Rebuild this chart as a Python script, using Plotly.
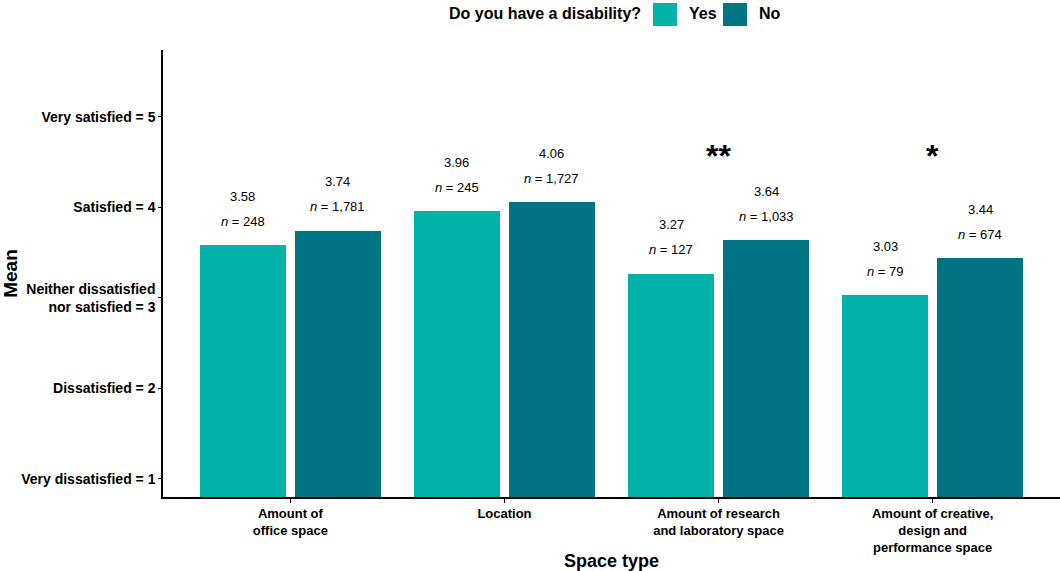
import plotly.graph_objects as go

# Survey means by space type and disability status
space_types = [
    "Amount of<br>office space",
    "Location",
    "Amount of research<br>and laboratory space",
    "Amount of creative,<br>design and<br>performance space",
]
groups = ["Yes", "No"]
mean_yes = [3.58, 3.96, 3.27, 3.03]
mean_no = [3.74, 4.06, 3.64, 3.44]
n_yes = [248, 245, 127, 79]
n_no = [1781, 1727, 1033, 674]
significance = ["", "", "**", "*"]

y_tick_vals = [1, 2, 3, 4, 5]
y_tick_text = [
    "Very dissatisfied = 1",
    "Dissatisfied = 2",
    "Neither dissatisfied<br>nor satisfied = 3",
    "Satisfied = 4",
    "Very satisfied = 5",
]

colors = {"Yes": "#00B2A9", "No": "#007483"}
FONT = "Liberation Sans, Arial, sans-serif"

# Dodged bar geometry (in category units)
bar_w = 0.402
gap = 0.042
offset = (bar_w + gap) / 2

idx = list(range(len(space_types)))
series = {"Yes": (mean_yes, n_yes, -offset), "No": (mean_no, n_no, offset)}

fig = go.Figure()
annotations = []
for g in groups:
    means, ns, off = series[g]
    xs = [i + off for i in idx]
    fig.add_trace(go.Bar(
        x=xs, y=means, width=bar_w, name=g,
        marker=dict(color=colors[g], line=dict(width=0)),
        showlegend=False, hoverinfo="skip",
    ))
    for x, m, n in zip(xs, means, ns):
        annotations.append(dict(
            x=x, y=m, xref="x", yref="y", text=f"<i>n</i> = {n:,}",
            showarrow=False, yanchor="middle", yshift=24,
            font=dict(family=FONT, size=13, color="black"),
        ))
        annotations.append(dict(
            x=x, y=m, xref="x", yref="y", text=f"{m:.2f}",
            showarrow=False, yanchor="middle", yshift=49,
            font=dict(family=FONT, size=13, color="black"),
        ))

for i, s in zip(idx, significance):
    if s:
        annotations.append(dict(
            x=i, y=4.57, xref="x", yref="y", text=f"<b>{s}</b>",
            showarrow=False, yanchor="middle",
            font=dict(family=FONT, size=32, color="black"),
        ))

# Legend drawn at the top
W, H = 1060, 571
L, R, T, B = 163, 0, 50, 74
pw, ph = W - L - R, H - T - B


def px(x):
    return (x - L) / pw


def py(y):
    return (H - B - y) / ph


shapes = []
annotations.append(dict(
    x=px(643), y=py(14), xref="paper", yref="paper",
    text="<b>Do you have a disability?</b>", showarrow=False,
    xanchor="right", yanchor="middle",
    font=dict(family=FONT, size=16, color="black"),
))
legend_pos = {"Yes": (653, 687), "No": (723, 757)}
for g in groups:
    sx, tx = legend_pos[g]
    shapes.append(dict(
        type="rect", xref="paper", yref="paper",
        x0=px(sx), x1=px(sx + 24), y0=py(26), y1=py(3),
        fillcolor=colors[g], line=dict(width=0),
    ))
    annotations.append(dict(
        x=px(tx), y=py(14), xref="paper", yref="paper",
        text=f"<b>{g}</b>", showarrow=False,
        xanchor="left", yanchor="middle",
        font=dict(family=FONT, size=16, color="black"),
    ))

fig.update_layout(
    width=W, height=H,
    margin=dict(l=L, r=R, t=T, b=B, autoexpand=False),
    plot_bgcolor="white", paper_bgcolor="white",
    bargap=0, barmode="overlay",
    font=dict(family=FONT, color="black"),
    annotations=annotations, shapes=shapes,
    showlegend=False,
)
fig.update_xaxes(
    range=[-0.595, 3.595], tickvals=idx, ticktext=[f"<b>{t}</b>" for t in space_types],
    tickfont=dict(family=FONT, size=13, color="black"),
    ticks="outside", ticklen=4, tickcolor="black", tickwidth=1,
    showline=True, linecolor="black", linewidth=1.5,
    showgrid=False, zeroline=False,
    title=dict(text="<b>Space type</b>", font=dict(family=FONT, size=18, color="black"), standoff=2),
)
fig.update_yaxes(
    range=[0.8, 5.74], tickvals=y_tick_vals, ticktext=[f"<b>{t}</b>" for t in y_tick_text],
    tickfont=dict(family=FONT, size=14, color="black"),
    ticks="outside", ticklen=3, tickcolor="black", tickwidth=1,
    showline=True, linecolor="black", linewidth=1.5,
    showgrid=False, zeroline=False,
    title=dict(text="<b>Mean</b>", font=dict(family=FONT, size=19, color="black"), standoff=2),
)

fig.write_html("out.html")
